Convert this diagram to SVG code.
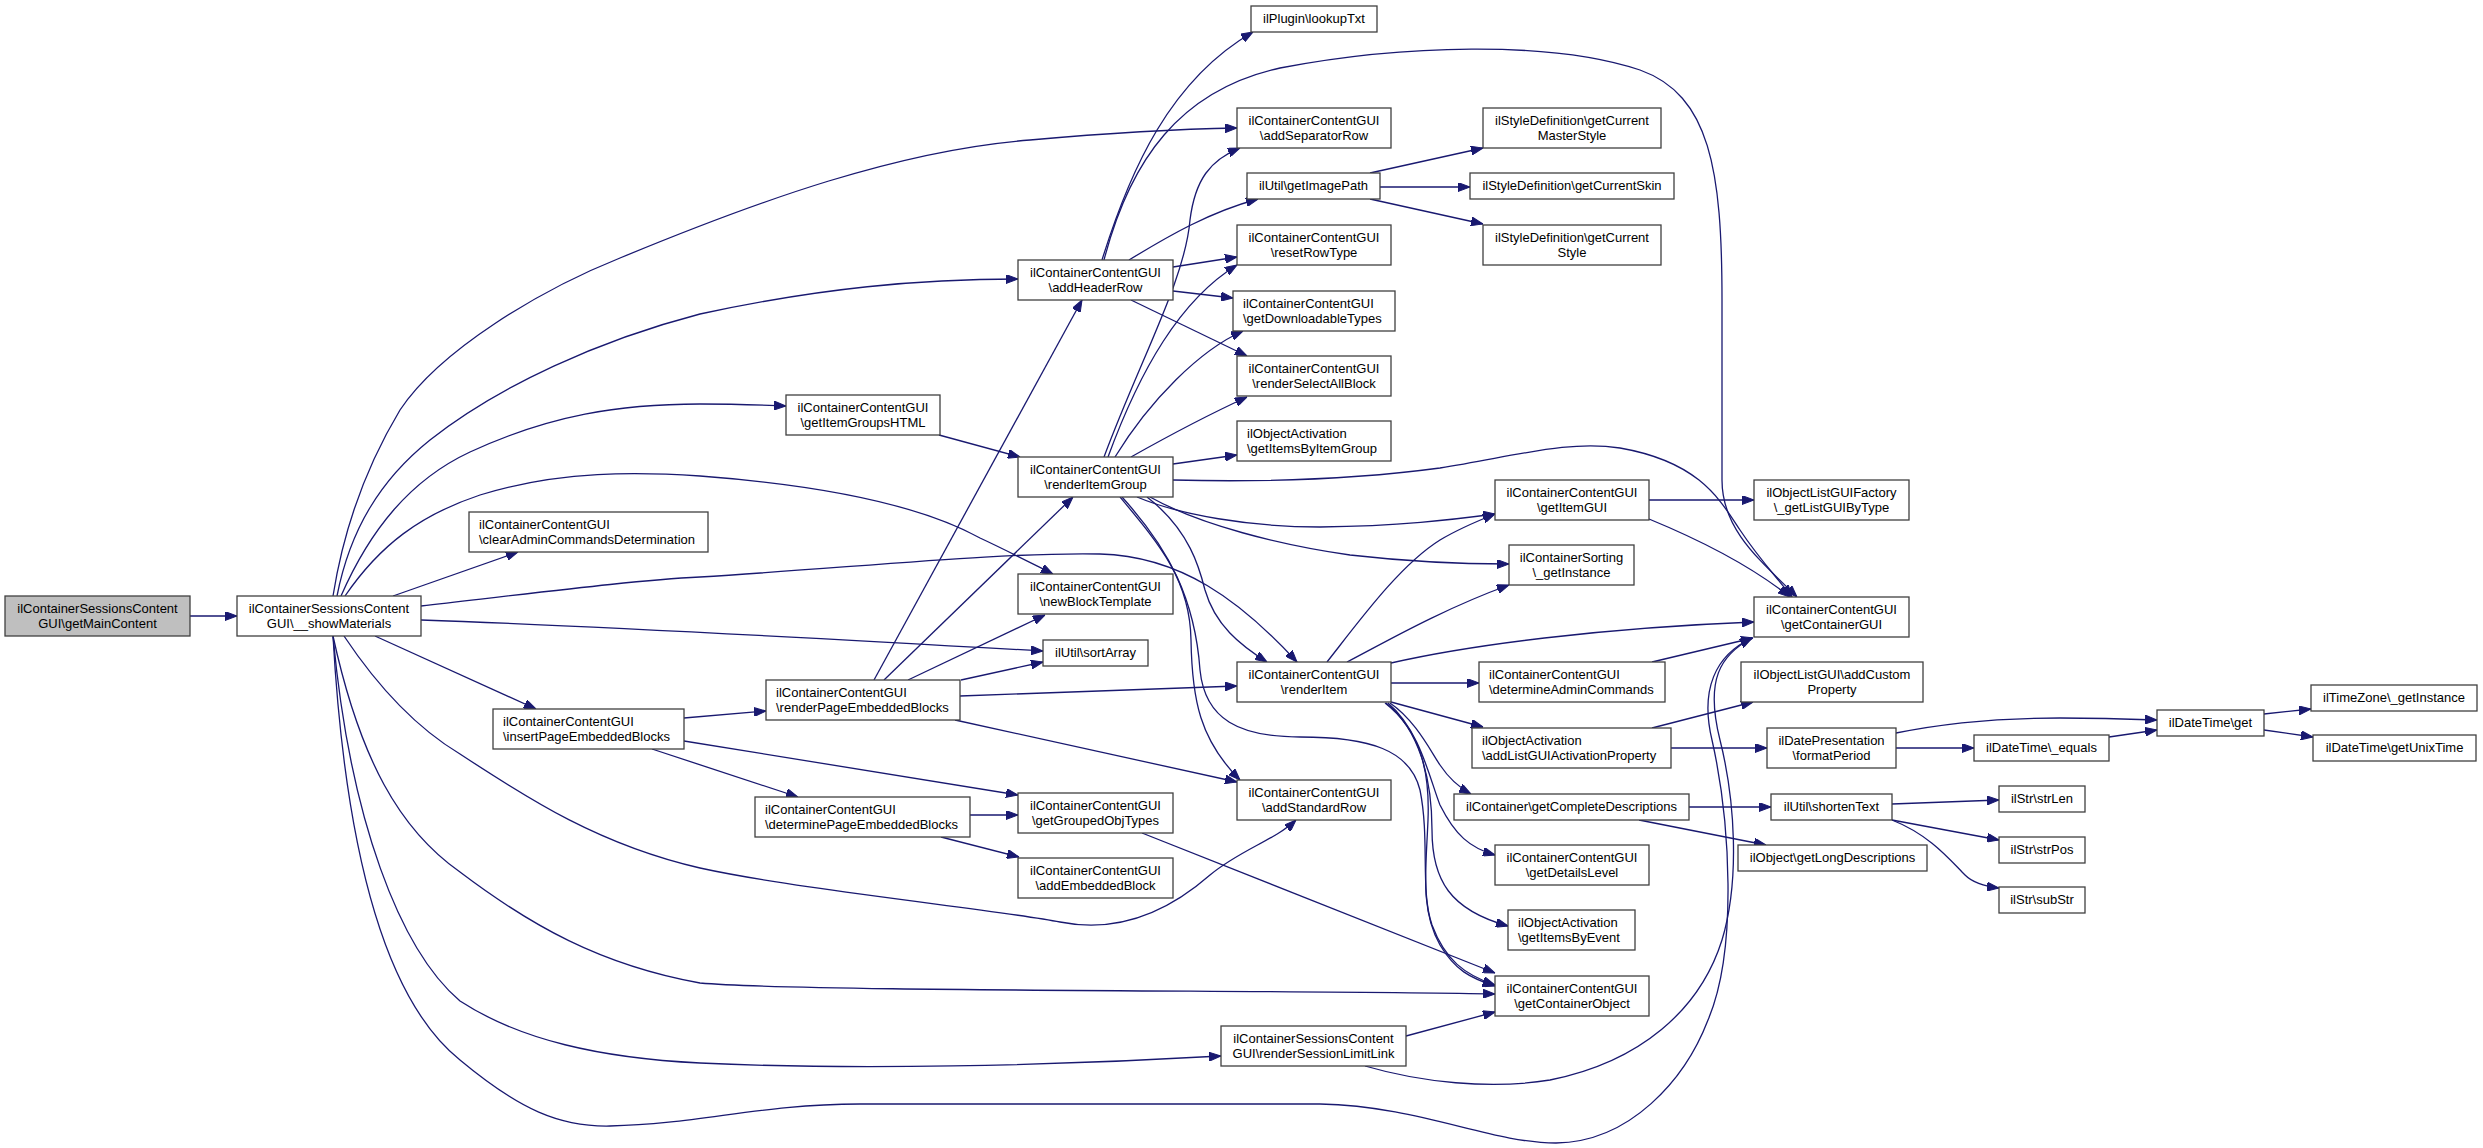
<svg xmlns="http://www.w3.org/2000/svg" width="2483" height="1148" viewBox="0 0 2483 1148">
<style>
.node rect{fill:#ffffff;stroke:#404040;stroke-width:1.3}
.node.root rect{fill:#bfbfbf}
.node text{font-family:"Liberation Sans",Arial,Helvetica,sans-serif;font-size:13px;fill:#000000}
.c{text-anchor:middle}
.l{text-anchor:start}
.edges path{fill:none;stroke:#191970;stroke-width:1.3;marker-end:url(#arr)}
</style>
<defs>
<marker id="arr" viewBox="0 0 12 9" refX="12" refY="4.5" markerWidth="12" markerHeight="9" markerUnits="userSpaceOnUse" orient="auto">
<path d="M0,0 L12,4.5 L0,9 z" fill="#191970" stroke="#191970" stroke-width="1"/>
</marker>
</defs>
<rect x="0" y="0" width="2483" height="1148" fill="#ffffff"/>
<g id="connectors" class="edges">
<path d="M190,616 L237,616"/>
<path d="M333,596 C345,520 370,460 400,410 C440,350 540,290 620,258 C760,200 900,150 1030,140 C1120,132 1180,129 1237,128"/>
<path d="M337,596 C350,530 380,480 430,440 C500,385 600,340 700,314 C820,288 920,279 1018,279"/>
<path d="M341,596 C370,530 410,480 470,452 C550,415 620,404 700,404 C740,404 760,405 786,406"/>
<path d="M345,596 C380,545 420,515 480,495 C560,470 640,472 700,476 C820,485 920,505 980,538 C1010,552 1035,565 1053,574"/>
<path d="M393,596 L518,552"/>
<path d="M421,606 C560,590 640,580 700,577 C850,568 1000,552 1100,554 C1180,556 1240,600 1297,662"/>
<path d="M421,620 C600,626 850,640 1043,651"/>
<path d="M375,636 L536,709"/>
<path d="M344,636 C380,690 420,730 460,754 C530,800 600,845 700,868 C800,890 1000,910 1060,922 C1120,934 1170,910 1210,875 C1240,850 1275,840 1296,820"/>
<path d="M333,636 C360,760 400,830 460,872 C530,925 600,965 700,983 C800,992 1300,990 1495,994"/>
<path d="M333,636 C350,820 400,950 460,1001 C520,1040 600,1058 700,1063 C850,1070 1050,1066 1221,1056"/>
<path d="M333,636 C345,850 385,1000 460,1060 C520,1110 560,1127 610,1126 C700,1124 760,1104 860,1104 L1320,1104 C1420,1106 1490,1143 1556,1143 C1630,1142 1685,1080 1708,1020 C1738,950 1730,820 1712,740 C1700,690 1715,655 1752,638"/>
<path d="M1365,1066 C1420,1082 1490,1090 1550,1080 C1640,1062 1700,1010 1722,940 C1740,880 1735,800 1720,740 C1705,680 1720,655 1752,638"/>
<path d="M1406,1036 L1495,1012"/>
<path d="M1102,260 C1130,170 1170,80 1253,32"/>
<path d="M1104,260 C1130,160 1180,90 1280,68 C1400,45 1550,40 1640,70 C1710,95 1722,170 1722,300 L1722,480 C1722,530 1760,560 1797,597"/>
<path d="M1129,260 C1170,235 1210,212 1258,199"/>
<path d="M1173,267 L1237,257"/>
<path d="M1173,291 L1233,298"/>
<path d="M1131,300 L1247,356"/>
<path d="M1104,457 C1140,360 1185,280 1190,220 C1195,180 1210,160 1240,148"/>
<path d="M1108,457 C1140,370 1180,300 1237,265"/>
<path d="M1115,457 C1150,400 1200,350 1243,331"/>
<path d="M1131,457 C1170,435 1210,414 1247,397"/>
<path d="M1173,464 L1237,455"/>
<path d="M1173,480 C1250,482 1350,480 1440,468 C1520,455 1570,440 1620,448 C1700,462 1720,500 1740,530 C1760,560 1775,575 1792,597"/>
<path d="M1137,497 C1180,515 1250,527 1320,527 C1400,526 1450,520 1495,514"/>
<path d="M1150,497 C1200,525 1280,545 1350,555 C1420,563 1470,564 1509,564"/>
<path d="M1147,497 C1190,530 1200,570 1205,590 C1215,625 1240,645 1267,662"/>
<path d="M1120,497 C1160,545 1190,580 1191,640 C1192,700 1200,740 1240,780"/>
<path d="M1122,497 C1170,550 1195,600 1200,670 C1205,720 1240,737 1300,737 C1370,737 1410,750 1420,790 C1430,840 1420,890 1432,925 C1445,960 1465,975 1495,985"/>
<path d="M1327,662 C1360,620 1400,565 1440,540 C1460,528 1480,520 1495,514"/>
<path d="M1347,662 C1380,645 1440,610 1509,585"/>
<path d="M1391,663 C1470,645 1600,628 1754,622"/>
<path d="M1391,683 L1479,683"/>
<path d="M1391,702 L1483,727"/>
<path d="M1390,703 C1415,720 1430,750 1440,765 C1450,780 1460,788 1471,794"/>
<path d="M1388,703 C1420,730 1430,780 1440,805 C1455,835 1470,848 1495,855"/>
<path d="M1386,703 C1420,730 1432,780 1432,830 C1432,880 1450,910 1508,926"/>
<path d="M1385,703 C1420,730 1430,770 1428,820 C1426,870 1420,910 1440,945 C1455,970 1470,978 1495,986"/>
<path d="M1649,500 L1754,500"/>
<path d="M1649,519 C1700,540 1750,565 1790,597"/>
<path d="M1652,662 L1753,638"/>
<path d="M1652,728 L1753,702"/>
<path d="M1671,748 L1767,748"/>
<path d="M1896,733 C1950,722 2000,718 2060,718 C2100,718 2130,719 2157,720"/>
<path d="M1896,748 L1974,748"/>
<path d="M2109,737 L2157,730"/>
<path d="M2264,714 L2311,709"/>
<path d="M2264,730 L2313,737"/>
<path d="M1689,807 L1771,807"/>
<path d="M1639,820 L1766,845"/>
<path d="M1892,804 L1999,800"/>
<path d="M1892,820 L1999,840"/>
<path d="M1892,820 C1930,835 1950,860 1965,875 C1975,885 1990,887 1999,888"/>
<path d="M684,718 L766,711"/>
<path d="M684,741 L1018,795"/>
<path d="M652,749 L798,797"/>
<path d="M874,680 L1082,300"/>
<path d="M884,680 L1073,497"/>
<path d="M908,680 L1045,615"/>
<path d="M961,680 L1043,662"/>
<path d="M960,696 L1237,686"/>
<path d="M955,720 L1237,782"/>
<path d="M970,815 L1018,815"/>
<path d="M941,837 L1019,857"/>
<path d="M1142,833 L1495,973"/>
<path d="M939,435 L1020,457"/>
<path d="M1370,173 L1483,148"/>
<path d="M1380,187 L1470,187"/>
<path d="M1370,199 L1483,224"/>
</g>
<g id="n0" class="node root"><rect x="5" y="596" width="185" height="40"/><text class="c"><tspan x="97.5" y="613">ilContainerSessionsContent</tspan><tspan x="97.5" y="628">GUI\getMainContent</tspan></text></g>
<g id="n1" class="node"><rect x="237" y="596" width="184" height="40"/><text class="c"><tspan x="329" y="613">ilContainerSessionsContent</tspan><tspan x="329" y="628">GUI\__showMaterials</tspan></text></g>
<g id="n2" class="node"><rect x="469" y="512" width="239" height="40"/><text class="l"><tspan x="479" y="529">ilContainerContentGUI</tspan><tspan x="479" y="544">\clearAdminCommandsDetermination</tspan></text></g>
<g id="n3" class="node"><rect x="493" y="709" width="191" height="40"/><text class="l"><tspan x="503" y="726">ilContainerContentGUI</tspan><tspan x="503" y="741">\insertPageEmbeddedBlocks</tspan></text></g>
<g id="n4" class="node"><rect x="786" y="395" width="154" height="40"/><text class="c"><tspan x="863" y="412">ilContainerContentGUI</tspan><tspan x="863" y="427">\getItemGroupsHTML</tspan></text></g>
<g id="n5" class="node"><rect x="766" y="680" width="194" height="40"/><text class="l"><tspan x="776" y="697">ilContainerContentGUI</tspan><tspan x="776" y="712">\renderPageEmbeddedBlocks</tspan></text></g>
<g id="n6" class="node"><rect x="755" y="797" width="215" height="40"/><text class="l"><tspan x="765" y="814">ilContainerContentGUI</tspan><tspan x="765" y="829">\determinePageEmbeddedBlocks</tspan></text></g>
<g id="n7" class="node"><rect x="1018" y="260" width="155" height="40"/><text class="c"><tspan x="1095.5" y="277">ilContainerContentGUI</tspan><tspan x="1095.5" y="292">\addHeaderRow</tspan></text></g>
<g id="n8" class="node"><rect x="1018" y="457" width="155" height="40"/><text class="c"><tspan x="1095.5" y="474">ilContainerContentGUI</tspan><tspan x="1095.5" y="489">\renderItemGroup</tspan></text></g>
<g id="n9" class="node"><rect x="1018" y="574" width="155" height="40"/><text class="c"><tspan x="1095.5" y="591">ilContainerContentGUI</tspan><tspan x="1095.5" y="606">\newBlockTemplate</tspan></text></g>
<g id="n10" class="node"><rect x="1043" y="640" width="105" height="26"/><text class="c" x="1095.5" y="656.5">ilUtil\sortArray</text></g>
<g id="n11" class="node"><rect x="1018" y="793" width="155" height="40"/><text class="c"><tspan x="1095.5" y="810">ilContainerContentGUI</tspan><tspan x="1095.5" y="825">\getGroupedObjTypes</tspan></text></g>
<g id="n12" class="node"><rect x="1018" y="858" width="155" height="40"/><text class="c"><tspan x="1095.5" y="875">ilContainerContentGUI</tspan><tspan x="1095.5" y="890">\addEmbeddedBlock</tspan></text></g>
<g id="n13" class="node"><rect x="1251" y="6" width="126" height="26"/><text class="c" x="1314" y="22.5">ilPlugin\lookupTxt</text></g>
<g id="n14" class="node"><rect x="1237" y="108" width="154" height="40"/><text class="c"><tspan x="1314" y="125">ilContainerContentGUI</tspan><tspan x="1314" y="140">\addSeparatorRow</tspan></text></g>
<g id="n15" class="node"><rect x="1247" y="173" width="133" height="26"/><text class="c" x="1313.5" y="189.5">ilUtil\getImagePath</text></g>
<g id="n16" class="node"><rect x="1237" y="225" width="154" height="40"/><text class="c"><tspan x="1314" y="242">ilContainerContentGUI</tspan><tspan x="1314" y="257">\resetRowType</tspan></text></g>
<g id="n17" class="node"><rect x="1233" y="291" width="162" height="40"/><text class="l"><tspan x="1243" y="308">ilContainerContentGUI</tspan><tspan x="1243" y="323">\getDownloadableTypes</tspan></text></g>
<g id="n18" class="node"><rect x="1237" y="356" width="154" height="40"/><text class="c"><tspan x="1314" y="373">ilContainerContentGUI</tspan><tspan x="1314" y="388">\renderSelectAllBlock</tspan></text></g>
<g id="n19" class="node"><rect x="1237" y="421" width="154" height="40"/><text class="l"><tspan x="1247" y="438">ilObjectActivation</tspan><tspan x="1247" y="453">\getItemsByItemGroup</tspan></text></g>
<g id="n20" class="node"><rect x="1237" y="662" width="154" height="40"/><text class="c"><tspan x="1314" y="679">ilContainerContentGUI</tspan><tspan x="1314" y="694">\renderItem</tspan></text></g>
<g id="n21" class="node"><rect x="1237" y="780" width="154" height="40"/><text class="c"><tspan x="1314" y="797">ilContainerContentGUI</tspan><tspan x="1314" y="812">\addStandardRow</tspan></text></g>
<g id="n22" class="node"><rect x="1221" y="1026" width="185" height="40"/><text class="c"><tspan x="1313.5" y="1043">ilContainerSessionsContent</tspan><tspan x="1313.5" y="1058">GUI\renderSessionLimitLink</tspan></text></g>
<g id="n23" class="node"><rect x="1483" y="108" width="178" height="40"/><text class="c"><tspan x="1572" y="125">ilStyleDefinition\getCurrent</tspan><tspan x="1572" y="140">MasterStyle</tspan></text></g>
<g id="n24" class="node"><rect x="1470" y="173" width="204" height="26"/><text class="c" x="1572" y="189.5">ilStyleDefinition\getCurrentSkin</text></g>
<g id="n25" class="node"><rect x="1483" y="225" width="178" height="40"/><text class="c"><tspan x="1572" y="242">ilStyleDefinition\getCurrent</tspan><tspan x="1572" y="257">Style</tspan></text></g>
<g id="n26" class="node"><rect x="1495" y="480" width="154" height="40"/><text class="c"><tspan x="1572" y="497">ilContainerContentGUI</tspan><tspan x="1572" y="512">\getItemGUI</tspan></text></g>
<g id="n27" class="node"><rect x="1509" y="545" width="125" height="40"/><text class="c"><tspan x="1571.5" y="562">ilContainerSorting</tspan><tspan x="1571.5" y="577">\_getInstance</tspan></text></g>
<g id="n28" class="node"><rect x="1479" y="662" width="186" height="40"/><text class="l"><tspan x="1489" y="679">ilContainerContentGUI</tspan><tspan x="1489" y="694">\determineAdminCommands</tspan></text></g>
<g id="n29" class="node"><rect x="1472" y="728" width="199" height="40"/><text class="l"><tspan x="1482" y="745">ilObjectActivation</tspan><tspan x="1482" y="760">\addListGUIActivationProperty</tspan></text></g>
<g id="n30" class="node"><rect x="1454" y="794" width="235" height="26"/><text class="c" x="1571.5" y="810.5">ilContainer\getCompleteDescriptions</text></g>
<g id="n31" class="node"><rect x="1495" y="845" width="154" height="40"/><text class="c"><tspan x="1572" y="862">ilContainerContentGUI</tspan><tspan x="1572" y="877">\getDetailsLevel</tspan></text></g>
<g id="n32" class="node"><rect x="1508" y="910" width="127" height="40"/><text class="l"><tspan x="1518" y="927">ilObjectActivation</tspan><tspan x="1518" y="942">\getItemsByEvent</tspan></text></g>
<g id="n33" class="node"><rect x="1495" y="976" width="154" height="40"/><text class="c"><tspan x="1572" y="993">ilContainerContentGUI</tspan><tspan x="1572" y="1008">\getContainerObject</tspan></text></g>
<g id="n34" class="node"><rect x="1754" y="480" width="155" height="40"/><text class="c"><tspan x="1831.5" y="497">ilObjectListGUIFactory</tspan><tspan x="1831.5" y="512">\_getListGUIByType</tspan></text></g>
<g id="n35" class="node"><rect x="1754" y="597" width="155" height="40"/><text class="c"><tspan x="1831.5" y="614">ilContainerContentGUI</tspan><tspan x="1831.5" y="629">\getContainerGUI</tspan></text></g>
<g id="n36" class="node"><rect x="1741" y="662" width="182" height="40"/><text class="c"><tspan x="1832" y="679">ilObjectListGUI\addCustom</tspan><tspan x="1832" y="694">Property</tspan></text></g>
<g id="n37" class="node"><rect x="1767" y="728" width="129" height="40"/><text class="c"><tspan x="1831.5" y="745">ilDatePresentation</tspan><tspan x="1831.5" y="760">\formatPeriod</tspan></text></g>
<g id="n38" class="node"><rect x="1771" y="794" width="121" height="26"/><text class="c" x="1831.5" y="810.5">ilUtil\shortenText</text></g>
<g id="n39" class="node"><rect x="1738" y="845" width="189" height="26"/><text class="c" x="1832.5" y="861.5">ilObject\getLongDescriptions</text></g>
<g id="n40" class="node"><rect x="1974" y="735" width="135" height="26"/><text class="c" x="2041.5" y="751.5">ilDateTime\_equals</text></g>
<g id="n41" class="node"><rect x="1999" y="786" width="86" height="26"/><text class="c" x="2042" y="802.5">ilStr\strLen</text></g>
<g id="n42" class="node"><rect x="1999" y="837" width="86" height="26"/><text class="c" x="2042" y="853.5">ilStr\strPos</text></g>
<g id="n43" class="node"><rect x="1999" y="887" width="86" height="26"/><text class="c" x="2042" y="903.5">ilStr\subStr</text></g>
<g id="n44" class="node"><rect x="2157" y="710" width="107" height="26"/><text class="c" x="2210.5" y="726.5">ilDateTime\get</text></g>
<g id="n45" class="node"><rect x="2311" y="685" width="166" height="26"/><text class="c" x="2394" y="701.5">ilTimeZone\_getInstance</text></g>
<g id="n46" class="node"><rect x="2313" y="735" width="163" height="26"/><text class="c" x="2394.5" y="751.5">ilDateTime\getUnixTime</text></g>
</svg>
